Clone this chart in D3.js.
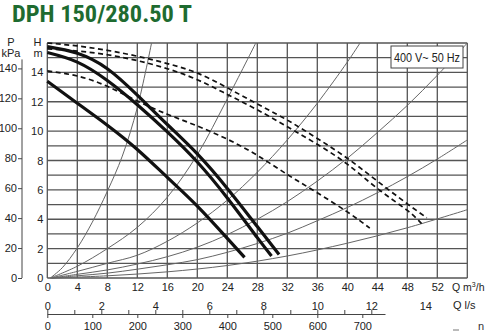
<!DOCTYPE html>
<html lang="en">
<head>
  <meta charset="UTF-8">
  <title>DPH 150/280.50 T</title>
  <script src="https://d3js.org/d3.v7.min.js"></script>
  <style>
    body {
      margin: 0;
      background: #fff;
    }

    svg {
      display: block;
      width: 485px;
      height: 333px;
      font-family: "Liberation Sans", Arial, sans-serif;
    }
  </style>
</head>
<body>

  <svg></svg>

  <script>
    // pump curves (Q m3/h, H m)
    const pumpTop = [[0, 15.75], [4, 15.3], [8, 14.25], [12, 12.45], [16, 10.45], [20, 8.45], [24, 6.1], [28, 3.5], [30.9, 1.6]];
    const pumpMid = [[0, 15.35], [4, 14.7], [8, 13.45], [12, 11.8], [16, 9.95], [20, 7.9], [24, 5.45], [28, 2.75], [29.9, 1.5]];
    const pumpLow = [[0, 13.4], [4, 11.9], [8, 10.4], [12, 8.75], [16, 6.85], [20, 4.9], [24, 2.7], [26.3, 1.4]];

    // dashed curves
    const dashTop = [[0, 16.0], [4, 15.8], [8, 15.5], [12, 15.1], [16, 14.6], [20, 13.95], [24, 12.95], [28, 11.85], [32, 10.75], [36, 9.5], [40, 8.15], [44, 6.6], [48, 5.05], [50.6, 4.1]];
    const dashMid = [[0, 15.6], [4, 15.45], [8, 15.2], [12, 14.8], [16, 14.25], [20, 13.5], [24, 12.5], [28, 11.45], [32, 10.3], [36, 9.1], [40, 7.75], [44, 6.1], [48, 4.6], [49.9, 3.7]];
    const dashLow = [[0, 14.1], [4, 13.75], [8, 13.05], [12, 12.05], [16, 11.15], [20, 10.35], [24, 9.45], [28, 8.35], [32, 7.05], [36, 5.8], [40, 4.5], [43, 3.4]];

    // system curves (thin)
    const sys1 = [[0.4, 0], [2, 0.7], [4, 2.05], [6, 3.8], [8, 5.9], [10, 8.3], [12, 11.6], [13.9, 16]];
    const sys2 = [[0.4, 0], [4, 0.8], [8, 2.0], [12, 3.45], [16, 5.5], [20, 8.4], [24, 12.2], [27.8, 16]];
    const sys3 = [[0.5, 0], [4, 0.45], [8, 1.0], [12, 1.55], [16, 2.5], [20, 3.75], [24, 5.3], [28, 7.2], [32, 9.4], [36, 11.9], [40, 14.7], [41.7, 16]];
    const sys4 = [[0.6, 0], [4, 0.25], [8, 0.55], [12, 0.95], [16, 1.45], [20, 2.1], [24, 2.95], [28, 4.0], [32, 5.2], [36, 6.6], [40, 8.15], [44, 9.9], [48, 11.75], [52, 13.8], [56, 16]];
    const sys5 = [[0.6, 0], [4, 0.15], [8, 0.33], [12, 0.6], [16, 0.9], [20, 1.25], [24, 1.75], [28, 2.35], [32, 3.05], [36, 3.9], [40, 4.8], [44, 5.8], [48, 6.9], [52, 8.1], [56, 9.4]];
    const sys6 = [[0.6, 0], [8, 0.15], [16, 0.42], [24, 0.85], [32, 1.5], [40, 2.37], [48, 3.42], [56, 4.65]];

    // tick labels
    const qTicks = [0, 4, 8, 12, 16, 20, 24, 28, 32, 36, 40, 44, 48, 52];
    const hTicks = [0, 2, 4, 6, 8, 10, 12, 14];
    const pTicks = [0, 20, 40, 60, 80, 100, 120, 140];
    const lsTicks = [0, 2, 4, 6, 8, 10, 12, 14];
    const lsMinor = [0, 1, 2, 3, 4, 5, 6, 7, 8, 9, 10, 11, 12];
    const lminTicks = [0, 100, 200, 300, 400, 500, 600, 700];

    const title = `DPH 150/280.50 T`;
    const legendText = `400 V~ 50 Hz`;

    const svg = d3.select(`svg`);

    const x = d3.scaleLinear().domain([0, 56]).range([47.3, 467.3]);
    const y = d3.scaleLinear().domain([0, 16]).range([278, 43]);
    const p = d3.scaleLinear().domain([0, 16 * 9.81]).range([278, 43]);
    const ls = d3.scaleLinear().domain([0, 56 / 3.6]).range(x.range());
    const lsShort = d3.scaleLinear().domain([0, 12.5]).range([x(0), x(45)]);
    const lminShort = d3.scaleLinear().domain([0, 750]).range([x(0), x(45)]);

    // title
    svg.append(`text`)
      .attr(`x`, 12)
      .attr(`y`, 22)
      .attr(`textLength`, 180)
      .attr(`lengthAdjust`, `spacingAndGlyphs`)
      .style(`font-family`, `"Liberation Sans Narrow", "Roboto Condensed", "Liberation Sans", sans-serif`)
      .style(`font-weight`, `bold`)
      .style(`font-size`, `24px`)
      .attr(`fill`, `#1e6b30`)
      .text(title);

    // grid
    const grid = svg.append(`g`).attr(`stroke`, `#555`).attr(`stroke-width`, 1.3);
    grid.selectAll(`.h`)
      .data(d3.range(0, 17))
      .join(`line`)
      .attr(`x1`, x(0)).attr(`x2`, x(56))
      .attr(`y1`, d => y(d)).attr(`y2`, d => y(d));
    grid.selectAll(`.v`)
      .data(d3.range(0, 57, 4))
      .join(`line`)
      .attr(`x1`, d => x(d)).attr(`x2`, d => x(d))
      .attr(`y1`, y(0)).attr(`y2`, y(16));

    const line = d3.line()
      .x(d => x(d[0]))
      .y(d => y(d[1]))
      .curve(d3.curveCatmullRom.alpha(0.5));

    const smooth = d3.line()
      .x(d => x(d[0]))
      .y(d => y(d[1]))
      .curve(d3.curveNatural);

    const plot = svg.append(`g`);

    plot.selectAll(`.sys`)
      .data([sys1, sys2, sys3, sys4, sys5, sys6])
      .join(`path`)
      .attr(`d`, line)
      .attr(`fill`, `none`)
      .attr(`stroke`, `#666`)
      .attr(`stroke-width`, 1);

    plot.selectAll(`.dash`)
      .data([dashTop, dashMid, dashLow])
      .join(`path`)
      .attr(`d`, smooth)
      .attr(`fill`, `none`)
      .attr(`stroke`, `#111`)
      .attr(`stroke-width`, 1.7)
      .attr(`stroke-dasharray`, `5,3.5`);

    plot.selectAll(`.pump`)
      .data([pumpTop, pumpMid, pumpLow])
      .join(`path`)
      .attr(`d`, smooth)
      .attr(`fill`, `none`)
      .attr(`stroke`, `#111`)
      .attr(`stroke-width`, 3.2);

    // legend box
    svg.append(`rect`)
      .attr(`x`, 391).attr(`y`, 46)
      .attr(`width`, 72).attr(`height`, 22)
      .attr(`fill`, `#fff`)
      .attr(`stroke`, `#444`)
      .attr(`stroke-width`, 1);
    svg.append(`text`)
      .attr(`x`, 394).attr(`y`, 62)
      .attr(`textLength`, 66)
      .attr(`lengthAdjust`, `spacingAndGlyphs`)
      .style(`font-size`, `13px`)
      .attr(`fill`, `#222`)
      .text(legendText);

    // H labels
    const hAxis = d3.axisLeft(y).tickValues(hTicks).tickSize(0).tickPadding(4);
    svg.append(`g`)
      .attr(`transform`, `translate(${x(0)}, 0)`)
      .call(hAxis)
      .call(g => g.select(`.domain`).remove())
      .selectAll(`text`).style(`font-size`, `11px`).attr(`fill`, `#222`);

    // P axis
    const pAxis = d3.axisLeft(p).tickValues(pTicks).tickSize(4).tickSizeOuter(0).tickPadding(1);
    svg.append(`g`)
      .attr(`transform`, `translate(22, 0)`)
      .call(pAxis)
      .call(g => g.select(`.domain`).remove())
      .call(g => g.selectAll(`line`).attr(`stroke`, `#444`))
      .selectAll(`text`).style(`font-size`, `11px`).attr(`fill`, `#222`);
    svg.append(`line`)
      .attr(`x1`, 22).attr(`x2`, 22)
      .attr(`y1`, p(0)).attr(`y2`, p(146))
      .attr(`stroke`, `#444`);

    const unitText = [
      {x: 11, y: 46, t: `P`}, {x: 11, y: 57, t: `kPa`},
      {x: 37.5, y: 46, t: `H`}, {x: 38, y: 57, t: `m`}
    ];
    svg.selectAll(`.unit`)
      .data(unitText)
      .join(`text`)
      .attr(`x`, d => d.x).attr(`y`, d => d.y)
      .attr(`text-anchor`, `middle`)
      .style(`font-size`, `11px`)
      .attr(`fill`, `#222`)
      .text(d => d.t);

    // Q m3/h labels
    const qAxis = d3.axisBottom(x).tickValues(qTicks).tickSize(0).tickPadding(5);
    svg.append(`g`)
      .attr(`transform`, `translate(0, ${y(0)})`)
      .call(qAxis)
      .call(g => g.select(`.domain`).remove())
      .selectAll(`text`).style(`font-size`, `11px`).attr(`fill`, `#222`);

    // Q l/s labels
    const lsAxis = d3.axisBottom(ls).tickValues(lsTicks).tickSize(0).tickPadding(0);
    svg.append(`g`)
      .attr(`transform`, `translate(0, 302)`)
      .call(lsAxis)
      .call(g => g.select(`.domain`).remove())
      .selectAll(`text`).style(`font-size`, `11px`).attr(`fill`, `#222`);

    // tick bar: l/s ticks up, l/min ticks down
    svg.append(`g`)
      .attr(`transform`, `translate(0, 314)`)
      .call(d3.axisTop(lsShort).tickValues(lsMinor).tickSize(4).tickSizeOuter(0).tickFormat(``))
      .call(g => g.selectAll(`line, path`).attr(`stroke`, `#444`));
    svg.append(`g`)
      .attr(`transform`, `translate(0, 314)`)
      .call(d3.axisBottom(lminShort).tickValues(lminTicks).tickSize(4).tickSizeOuter(0).tickPadding(4))
      .call(g => g.selectAll(`line, path`).attr(`stroke`, `#444`))
      .selectAll(`text`).style(`font-size`, `11px`).attr(`fill`, `#222`);

    // unit names on the right
    const qUnit = svg.append(`text`)
      .attr(`x`, 452).attr(`y`, 291)
      .style(`font-size`, `10.5px`)
      .attr(`fill`, `#222`);
    qUnit.append(`tspan`).text(`Q m`);
    qUnit.append(`tspan`).attr(`dy`, -4).style(`font-size`, `7px`).text(`3`);
    qUnit.append(`tspan`).attr(`dy`, 4).text(`/h`);

    svg.append(`text`)
      .attr(`x`, 453).attr(`y`, 309)
      .style(`font-size`, `11px`)
      .attr(`fill`, `#222`)
      .text(`Q l/s`);

    svg.append(`text`)
      .attr(`x`, 478).attr(`y`, 330)
      .style(`font-size`, `11px`)
      .attr(`fill`, `#333`)
      .text(`n`);
    svg.append(`line`)
      .attr(`x1`, 453).attr(`x2`, 459)
      .attr(`y1`, 330).attr(`y2`, 330)
      .attr(`stroke`, `#777`);
  </script>
</body>
</html>
